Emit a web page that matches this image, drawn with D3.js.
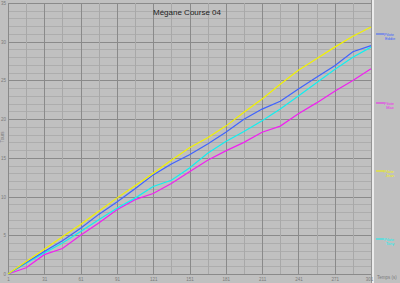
<!DOCTYPE html>
<html lang="en">
<head>
<meta charset="UTF-8">
<title>Megane Course 04</title>
<script src="https://d3js.org/d3.v7.min.js"></script>
<style>
  body { margin: 0; background: #c0c0c0; }
  svg { display: block; font-family: "Liberation Sans", Arial, sans-serif; }
</style>
</head>
<body>
<div id="chart"></div>
<script>
// time (s) sampled every 15 s
var times = [1, 16, 31, 46, 61, 76, 91, 106, 121, 136, 151, 166, 181, 196, 211, 226, 241, 256, 271, 286, 301];
var eddie = [0, 1.5, 2.9, 4.3, 5.9, 7.7, 9.3, 11.0, 12.8, 14.2, 15.4, 16.8, 18.3, 20.0, 21.3, 22.3, 23.9, 25.4, 26.9, 28.7, 29.5];
var maxi  = [0, 0.8, 2.5, 3.3, 5.0, 6.6, 8.3, 9.6, 10.4, 11.7, 13.2, 14.7, 15.9, 17.0, 18.3, 19.1, 20.7, 22.1, 23.6, 25.0, 26.5];
var jean  = [0, 1.6, 3.2, 4.8, 6.4, 8.1, 9.8, 11.4, 13.0, 14.7, 16.3, 17.6, 19.1, 20.9, 22.6, 24.5, 26.3, 27.8, 29.3, 30.7, 31.9];
var tony  = [0, 1.4, 2.7, 4.0, 5.5, 7.0, 8.5, 9.8, 11.3, 12.1, 13.7, 15.6, 17.1, 18.4, 19.8, 21.3, 23.0, 24.7, 26.4, 28.0, 29.3];
var seriesNames = [["Pilote", "Eddie"], ["Pilote", "Max"], ["Pilote", "Jean"], ["Pilote", "Tony"]];
var seriesColors = ["#3f63ff", "#f020f0", "#f2f200", "#10f0f0"];
var xTicks = [1, 31, 61, 91, 121, 151, 181, 211, 241, 271, 301];
var yTicks = [0, 5, 10, 15, 20, 25, 30, 35];

var W = 400, H = 283;
var m = {left: 8, right: 371, top: 3, bottom: 274};

var svg = d3.select("#chart").append("svg")
    .attr("width", W).attr("height", H);

svg.append("rect").attr("width", W).attr("height", H).attr("fill", "#c0c0c0");

var x = d3.scaleLinear().domain([1, 301]).range([m.left, m.right]);
var y = d3.scaleLinear().domain([0, 35]).range([m.bottom, m.top]);

// grid
var g = svg.append("g");
g.selectAll("line.hmin").data(d3.range(0, 36)).enter().append("line")
    .attr("x1", m.left).attr("x2", m.right)
    .attr("y1", function(d) { return Math.round(y(d)) + 0.5; })
    .attr("y2", function(d) { return Math.round(y(d)) + 0.5; })
    .attr("stroke", function(d) { return d % 5 === 0 ? "#8a8a8a" : "#adadad"; })
    .attr("stroke-width", 1);
g.selectAll("line.vmin").data(d3.range(1, 302, 15)).enter().append("line")
    .attr("y1", m.top).attr("y2", m.bottom)
    .attr("x1", function(d) { return Math.round(x(d)) + 0.5; })
    .attr("x2", function(d) { return Math.round(x(d)) + 0.5; })
    .attr("stroke", function(d) { return (d - 1) % 30 === 0 ? "#8a8a8a" : "#a8a8a8"; })
    .attr("stroke-width", 1);

// legend panel separator
svg.append("rect").attr("x", 371).attr("y", 0).attr("width", 1).attr("height", 283).attr("fill", "#949494");
svg.append("rect").attr("x", 372).attr("y", 0).attr("width", 2).attr("height", 283).attr("fill", "#ececec");

// axes
var xAxis = svg.append("g").attr("transform", "translate(0," + (m.bottom + 4) + ")")
    .call(d3.axisBottom(x).tickValues(xTicks).tickSize(0).tickPadding(0));
var yAxis = svg.append("g").attr("transform", "translate(" + (m.left - 2) + ",0)")
    .call(d3.axisLeft(y).tickValues(yTicks).tickSize(0).tickPadding(0));
[xAxis, yAxis].forEach(function(a) {
  a.select(".domain").remove();
  a.selectAll("text").attr("fill", "#7a7a7a").style("font-size", "4.5px")
      .style("font-family", "Liberation Sans, Arial, sans-serif");
});
xAxis.selectAll("text").filter(function(d) { return d === 301; }).attr("dx", -2);

svg.append("text").attr("transform", "translate(4," + 137 + ") rotate(-90)")
    .attr("text-anchor", "middle").attr("fill", "#7a7a7a").style("font-size", "4.5px")
    .text("Tours");
svg.append("text").attr("x", 387).attr("y", 279)
    .attr("text-anchor", "middle").attr("fill", "#7a7a7a").style("font-size", "4.5px")
    .text("Temps (s)");

// title
svg.append("text").attr("x", 187).attr("y", 15)
    .attr("text-anchor", "middle").attr("fill", "#222")
    .style("font-size", "8px")
    .text("Mégane Course 04");

// series
var data = [eddie, maxi, jean, tony];
var line = d3.line()
    .x(function(d, i) { return x(times[i]); })
    .y(function(d) { return y(d); });

[1, 3, 0, 2].forEach(function(k) {
  svg.append("path").datum(data[k])
      .attr("d", line)
      .attr("fill", "none")
      .attr("stroke", seriesColors[k])
      .attr("stroke-width", 1.2);
});

// legend
var legendY = [34, 103, 171, 239];
seriesNames.forEach(function(nm, k) {
  var ly = legendY[k];
  svg.append("line").attr("x1", 376).attr("x2", 384)
      .attr("y1", ly).attr("y2", ly)
      .attr("stroke", seriesColors[k]).attr("stroke-width", 1);
  svg.append("text").attr("x", 389).attr("y", ly + 1.5)
      .attr("text-anchor", "middle").attr("fill", seriesColors[k])
      .style("font-size", "4px").text(nm[0]);
  svg.append("text").attr("x", 390).attr("y", ly + 6)
      .attr("text-anchor", "middle").attr("fill", seriesColors[k])
      .style("font-size", "4px").text(nm[1]);
});
</script>
</body>
</html>
